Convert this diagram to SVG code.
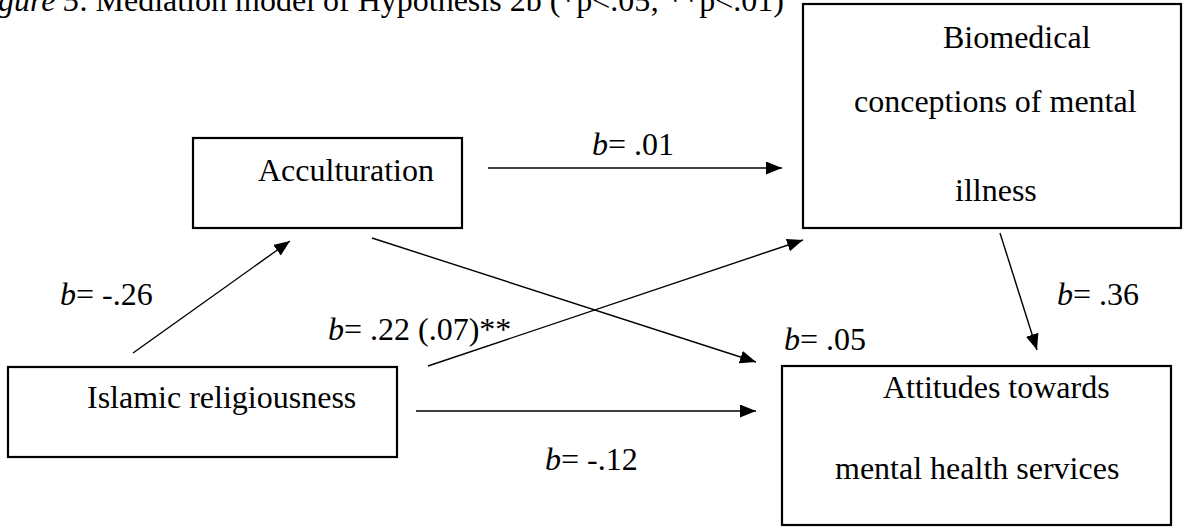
<svg xmlns="http://www.w3.org/2000/svg" width="1183" height="527" viewBox="0 0 1183 527">
<style>
text{font-family:"Liberation Serif","Times New Roman",serif;font-size:32px;fill:#000}
.box{fill:#fff;stroke:#000;stroke-width:2.2}
.edge{stroke:#000;stroke-width:1.4;fill:none}
.i{font-style:italic}
</style>
<defs>
<marker id="ah" markerUnits="userSpaceOnUse" markerWidth="16" markerHeight="13" refX="16" refY="6.5" orient="auto">
<path d="M0,0 L16,6.5 L0,13 z" fill="#000"/>
</marker>
</defs>
<rect width="1183" height="527" fill="#fff"/>
<g id="title"><text x="-2" y="11"><tspan class="i">gure 5</tspan>. Mediation model of Hypothesis 2b (*p&lt;.05; **p&lt;.01)</text></g>
<g id="connectors">
<line class="edge" x1="488" y1="168" x2="782" y2="168" marker-end="url(#ah)"/>
<line class="edge" x1="1000" y1="233" x2="1037" y2="350" marker-end="url(#ah)"/>
<line class="edge" x1="372" y1="238" x2="756" y2="362" marker-end="url(#ah)"/>
<line class="edge" x1="428" y1="366" x2="803" y2="240" marker-end="url(#ah)"/>
<line class="edge" x1="133" y1="353" x2="290" y2="241" marker-end="url(#ah)"/>
<line class="edge" x1="416" y1="411" x2="756" y2="411" marker-end="url(#ah)"/>
</g>
<g id="labels">
<text x="592" y="155"><tspan class="i">b</tspan>= .01</text>
<text x="1057" y="305"><tspan class="i">b</tspan>= .36</text>
<text x="784" y="350"><tspan class="i">b</tspan>= .05</text>
<text x="60" y="305"><tspan class="i">b</tspan>= -.26</text>
<text x="328" y="340"><tspan class="i">b</tspan>= .22 (.07)**</text>
<text x="545" y="470"><tspan class="i">b</tspan>= -.12</text>
</g>
<g id="acculturation">
<rect class="box" x="193" y="138" width="269" height="90"/>
<text x="258" y="181">Acculturation</text>
</g>
<g id="biomedical">
<rect class="box" x="803" y="4" width="378" height="224"/>
<text x="943" y="48">Biomedical</text>
<text x="854" y="112">conceptions of mental</text>
<text x="955" y="201">illness</text>
</g>
<g id="islamic">
<rect class="box" x="8" y="367" width="389" height="90"/>
<text x="87" y="408">Islamic religiousness</text>
</g>
<g id="attitudes">
<rect class="box" x="782" y="366" width="389" height="159"/>
<text x="883" y="398">Attitudes towards</text>
<text x="835" y="479">mental health services</text>
</g>
</svg>
